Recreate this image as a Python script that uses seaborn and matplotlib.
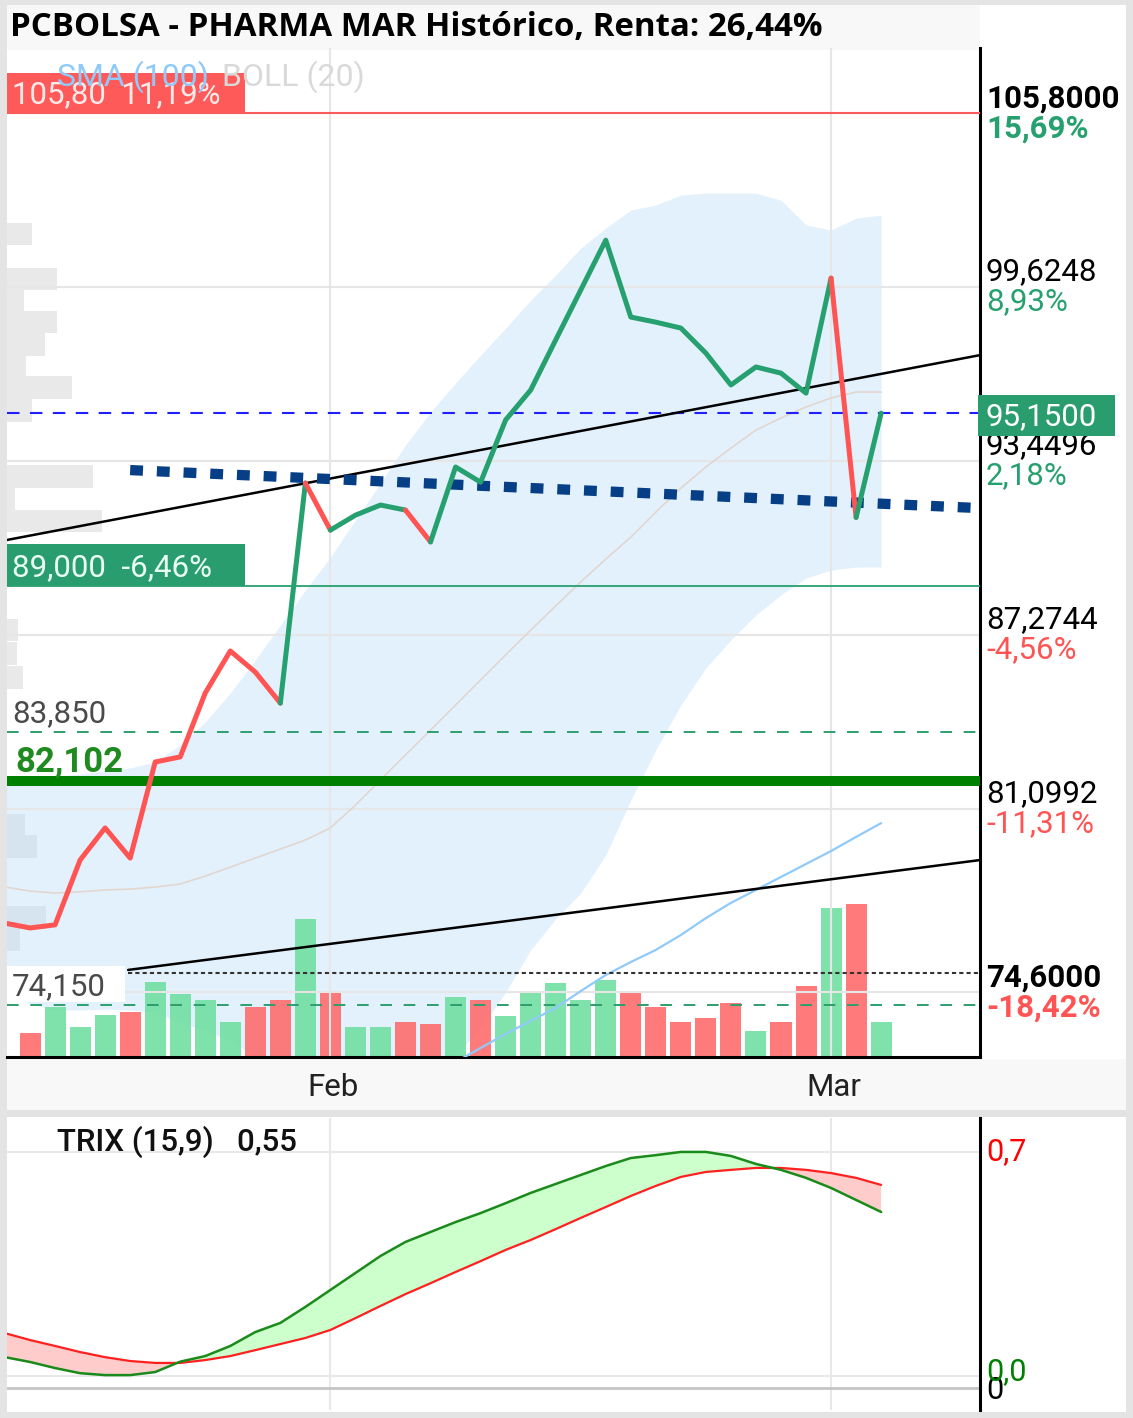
import math
import numpy as np
import pandas as pd
import matplotlib
matplotlib.use("Agg")
import matplotlib.pyplot as plt
import matplotlib.transforms as mtrans
from matplotlib.patches import Rectangle
import seaborn as sns

# ------------------------------------------------------------------ data
day_index = list(range(-1, 35))
close = [77.05, 76.88, 76.99, 79.29, 80.43, 79.36, 82.77, 82.95, 85.22, 86.71,
         85.96, 84.86, 92.67, 91.00, 91.53, 91.89, 91.71, 90.58, 93.24, 92.70,
         94.91, 95.97, 97.75, 99.52, 101.29, 98.56, 98.38, 98.17, 97.28, 96.15,
         96.79, 96.57, 95.86, 99.94, 91.45, 95.15]
# colour of the segment that ends at each point
line_state = ["down"] * 12 + ["up", "down", "up", "up", "up", "down"] + ["up"] * 16 + ["down", "up"]
boll_upper = [82.13, 82.20, 82.27, 82.34, 82.45, 82.56, 82.77, 83.37, 84.19, 85.22,
              86.39, 87.63, 88.87, 90.04, 91.36, 92.67, 94.02, 95.19, 96.22, 97.21,
              98.17, 99.16, 100.05, 101.01, 101.72, 102.36, 102.54, 102.89, 102.96, 102.96,
              102.96, 102.71, 101.83, 101.65, 102.07, 102.18]
boll_mid = [78.33, 78.19, 78.12, 78.16, 78.23, 78.26, 78.33, 78.44, 78.72, 79.04,
            79.36, 79.68, 80.00, 80.43, 81.24, 82.13, 83.02, 83.90, 84.79, 85.68,
            86.57, 87.45, 88.31, 89.16, 89.97, 90.75, 91.64, 92.49, 93.24, 93.91,
            94.55, 94.98, 95.37, 95.69, 95.90, 95.90]
boll_lower = [74.54, 74.18, 73.97, 73.97, 74.00, 73.97, 73.90, 73.51, 73.26, 72.87,
              72.34, 71.73, 71.13, 70.81, 71.13, 71.59, 72.02, 71.66, 72.40, 73.30,
              74.60, 76.10, 77.20, 78.12, 79.47, 81.42, 83.20, 84.79, 86.11, 87.10,
              87.99, 88.70, 89.30, 89.58, 89.69, 89.69]
sma100 = [np.nan] * 18 + [72.12, 72.62, 73.12, 73.58, 74.04, 74.64, 75.21, 75.67, 76.10,
                          76.63, 77.23, 77.77, 78.23, 78.69, 79.15, 79.61, 80.11, 80.60]
volume_days = list(range(0, 35))
volume_k = [72, 150, 90, 126, 135, 225, 189, 171, 105, 150, 171, 414, 198, 90, 90,
            105, 99, 180, 171, 123, 198, 222, 171, 231, 198, 150, 105, 117, 162, 78,
            105, 213, 447, 459, 105]
trix = [0.059, 0.044, 0.025, 0.009, 0.003, 0.003, 0.0125, 0.045, 0.0625, 0.094,
        0.1375, 0.166, 0.216, 0.269, 0.322, 0.375, 0.419, 0.45, 0.481, 0.509,
        0.54, 0.572, 0.60, 0.628, 0.656, 0.681, 0.69, 0.70, 0.70, 0.6875,
        0.6625, 0.644, 0.619, 0.5875, 0.55, 0.5125]
trix_signal = [0.134, 0.1125, 0.094, 0.075, 0.059, 0.047, 0.041, 0.041, 0.05, 0.0625,
               0.081, 0.10, 0.119, 0.144, 0.181, 0.219, 0.256, 0.29, 0.325, 0.359,
               0.394, 0.425, 0.459, 0.494, 0.528, 0.5625, 0.594, 0.622, 0.6375, 0.644,
               0.65, 0.65, 0.644, 0.634, 0.619, 0.597]
trix_label_value = 0.55
trix_levels = [0.7, 0.0]
trix_base = -0.0375
profile_price = [101.51, 99.91, 99.16, 98.38, 97.59, 96.79, 96.06, 95.24, 92.90, 92.10,
                 91.32, 87.45, 86.62, 85.77, 80.52, 79.77, 77.25, 76.45]
profile_vol = [250, 500, 170, 500, 380, 190, 650, 250, 860, 80, 950, 110, 100, 160,
               180, 300, 390, 130]
month_ticks = [12, 32]
month_labels = ["Feb", "Mar"]
price_labels = [105.8, 99.6248, 93.4496, 87.2744, 81.0992, 74.6]
grid_levels = [99.6248, 93.4496, 87.2744, 81.0992, 74.6]
ref_close = 91.45
last_close = 95.15
resistance = 105.80
support = 89.00
dashed_levels = [83.85, 74.15]
thick_level = 82.102
dotted_level = 75.28
trend_upper = ([-0.92, 37.95], [90.65, 97.21])
trend_lower = ([3.92, 37.95], [75.39, 79.29])
trend_blue = ([4.0, 37.95], [93.13, 91.78])
title = "PCBOLSA - PHARMA MAR Histórico, Renta: 26,44%"

df = pd.DataFrame({"idx": day_index, "close": close, "upper": boll_upper,
                   "mid": boll_mid, "lower": boll_lower, "sma100": sma100,
                   "trix": trix, "signal": trix_signal})

# ------------------------------------------------------------------ style
sns.set_theme(style="white")
plt.rcParams["font.family"] = ["Roboto", "DejaVu Sans"]
plt.rcParams["axes.linewidth"] = 2.2

GREEN = "#27a06f"
RED = "#ff5454"
W, H = 1133, 1418
fig = plt.figure(figsize=(W / 100, H / 100), dpi=100)
fig.patch.set_facecolor("#e4e4e4")


def fx(px):
    return px / W


def fy(py):
    return 1 - py / H


def frect(x0, y0, x1, y1, color, z=0):
    fig.patches.append(Rectangle((fx(x0), fy(y1)), fx(x1) - fx(x0), (y1 - y0) / H,
                                 transform=fig.transFigure, color=color, zorder=z, lw=0))


frect(7, 5, 1126, 1412, "white")
frect(7, 5, 980, 50, "#f8f8f8")
frect(7, 1059, 1126, 1110, "#f8f8f8")
frect(7, 1110, 1126, 1117, "#e2e2e2")

XMIN, XMAX = -0.92, 37.95
YMIN, YMAX = 72.30, 108.11
rect_main = [fx(7), fy(1057), fx(980) - fx(7), (1057 - 48) / H]

axp = fig.add_axes(rect_main, zorder=1)   # volume profile
axb = fig.add_axes(rect_main, zorder=2)   # bollinger band fill
axv = fig.add_axes(rect_main, zorder=3)   # volume bars
ax = fig.add_axes(rect_main, zorder=4)    # price lines
for a in (axp, axb, axv, ax):
    a.patch.set_visible(False)
    a.set_xticks([])
    a.set_yticks([])
    for s in a.spines.values():
        s.set_visible(False)

# volume profile
axp.set_ylim(YMIN, YMAX)
axp.set_xlim(0, 9730)
axp.barh(profile_price, profile_vol, height=0.8, color="#e9e9e9", lw=0)

# bollinger band
axb.set_xlim(XMIN, XMAX)
axb.set_ylim(YMIN, YMAX)
axb.fill_between(df["idx"], df["lower"], df["upper"], color="#b9defa", alpha=0.4, lw=0)

# volume
axv.set_xlim(XMIN, XMAX)
axv.set_ylim(0, 3027)
vcol = []
for i, d in enumerate(volume_days):
    up = close[d + 1] >= close[d]
    vcol.append("#6add9d" if up else "#ff6464")
axv.bar(volume_days, volume_k, width=0.84, color=vcol, alpha=0.85, lw=0)

# main price axes
ax.set_xlim(XMIN, XMAX)
ax.set_ylim(YMIN, YMAX)
ppu = (rect_main[3] * H) / (YMAX - YMIN)  # pixels per price unit

for g in grid_levels:
    ax.axhline(g, color="#e6e6e6", lw=1.5, zorder=1)
for t in month_ticks:
    ax.axvline(t, color="#e6e6e6", lw=1.5, zorder=1)

sns.lineplot(data=df, x="idx", y="mid", ax=ax, color="#e2d6ce", lw=1.2, zorder=3)
sns.lineplot(data=df, x="idx", y="sma100", ax=ax, color="#90caf9", lw=1.6, zorder=3)
ax.set_xlabel("")
ax.set_ylabel("")

# horizontal levels
ax.axhline(resistance, color="#ff5a5a", lw=1.5, zorder=4)
ax.axhline(support, color=GREEN, lw=1.3, zorder=4)
ax.axhline(last_close, color="#1f1fff", lw=1.5, ls=(0, (6, 5)), zorder=4)
for lv in dashed_levels:
    ax.axhline(lv, color="#2e9e6e", lw=1.4, ls=(0, (6, 6)), zorder=4)
ax.axhline(thick_level, color="#008000", lw=7.2, zorder=4)
ax.plot([trend_lower[0][0], XMAX], [dotted_level, dotted_level], color="#333333",
        lw=1.5, ls=(0, (2, 1.5)), zorder=4)

# trend lines
ax.plot(*trend_upper, color="black", lw=1.8, zorder=5)
ax.plot(*trend_lower, color="black", lw=1.8, zorder=5)
ax.plot(*trend_blue, color="#073f86", lw=7.4, ls=(0, (1.25, 1.35)),
        solid_capstyle="butt", dash_capstyle="butt", zorder=5)

# price line, coloured by segment state
runs = []
for j in range(1, len(close)):
    st = line_state[j]
    if runs and runs[-1][0] == st:
        runs[-1][1].append(j)
    else:
        runs.append([st, [j - 1, j]])
for st, pts in runs:
    ax.plot([day_index[p] for p in pts], [close[p] for p in pts],
            color=GREEN if st == "up" else RED, lw=3.6, solid_capstyle="round",
            solid_joinstyle="round", zorder=6)

# spines
ax.spines["right"].set_visible(True)
ax.spines["bottom"].set_visible(True)
ax.spines["right"].set_color("black")
ax.spines["bottom"].set_color("black")

blend = mtrans.blended_transform_factory(ax.transAxes, ax.transData)


def fmt(v, nd):
    return f"{v:.{nd}f}".replace(".", ",")


def pct(p, base):
    v = (p / base - 1) * 100
    v = math.trunc(v * 100) / 100
    return fmt(v, 2) + "%"


# left boxed labels
ax.add_patch(Rectangle((0, resistance), 238 / 973, 40 / ppu, transform=blend,
                       color="#ff5a5a", lw=0, zorder=7, clip_on=False))
ax.text(5 / 973, resistance + 18 / ppu, f"{fmt(resistance, 2)}  {pct(resistance, last_close)}",
        transform=blend, color="#ffeaea", fontsize=22.5, va="center", ha="left", zorder=8)
ax.add_patch(Rectangle((0, support), 238 / 973, 42 / ppu, transform=blend,
                       color="#2a9d6f", lw=0, zorder=7, clip_on=False))
ax.text(5 / 973, support + 19 / ppu, f"{fmt(support, 3)}  {pct(support, last_close)}",
        transform=blend, color="#eafff4", fontsize=22.5, va="center", ha="left", zorder=8)

ax.text(50 / 973, 1 - 29 / 1009, "SMA (100)", transform=ax.transAxes, color="#90caf9",
        fontsize=23, va="center", ha="left", zorder=9)
ax.text(215 / 973, 1 - 29 / 1009, "BOLL (20)", transform=ax.transAxes, color="#d9d9d9",
        fontsize=23, va="center", ha="left", zorder=9)

ax.text(5 / 973, dashed_levels[0] + 18 / ppu, fmt(dashed_levels[0], 3), transform=blend,
        color="#4a4a4a", fontsize=22.5, va="center", ha="left", zorder=8)
ax.text(8 / 973, thick_level + 19 / ppu, fmt(thick_level, 3), transform=blend,
        color="#1f8a1f", fontsize=25, fontweight="bold", va="center", ha="left", zorder=8)
ax.add_patch(Rectangle((0, dashed_levels[1] + 3 / ppu), 118 / 973, 36 / ppu, transform=blend,
                       color="white", lw=0, zorder=7))
ax.text(5 / 973, dashed_levels[1] + 18 / ppu, fmt(dashed_levels[1], 3), transform=blend,
        color="#4a4a4a", fontsize=22.5, va="center", ha="left", zorder=8)

# right axis labels
for p in price_labels:
    bold = p in (max(price_labels), min(price_labels))
    wt = "bold" if bold else "normal"
    pc = pct(p, ref_close)
    pcol = GREEN if p >= ref_close else RED
    ax.text(1 + 6 / 973, p + 15 / ppu, fmt(p, 4), transform=blend, color="black",
            fontsize=22.5, fontweight=wt, va="center", ha="left", clip_on=False)
    ax.text(1 + 6 / 973, p - 15 / ppu, pc, transform=blend, color=pcol,
            fontsize=22.5, fontweight=wt, va="center", ha="left", clip_on=False)
ax.add_patch(Rectangle((1 - 2 / 973, last_close - 23 / ppu), 137 / 973, 41 / ppu,
                       transform=blend, color="#2a9d6f", lw=0, zorder=10, clip_on=False))
ax.text(1 + 6 / 973, last_close - 3 / ppu, fmt(last_close, 4), transform=blend, color="white",
        fontsize=22.5, va="center", ha="left", zorder=11, clip_on=False)

# month labels
xblend = mtrans.blended_transform_factory(ax.transData, ax.transAxes)
for t, lab in zip(month_ticks, month_labels):
    ax.text(t + 0.1, -31 / 1009, lab, transform=xblend, fontsize=22.5, color="#222222",
            ha="center", va="center", clip_on=False)

# title
fig.text(fx(10), fy(28), title, fontsize=23.8, fontweight="bold", color="black",
         family=["Open Sans", "DejaVu Sans"], va="center", ha="left")

# ------------------------------------------------------------------ TRIX panel
ax2 = fig.add_axes([fx(7), fy(1410), fx(980) - fx(7), (1410 - 1118) / H], zorder=3)
ax2.patch.set_visible(False)
ax2.set_xlim(XMIN, XMAX)
ax2.set_ylim(-0.106, 0.806)
ax2.set_xticks([])
ax2.set_yticks([])
for s in ax2.spines.values():
    s.set_visible(False)
ax2.spines["right"].set_visible(True)
ax2.spines["right"].set_color("black")
for lv in trix_levels:
    ax2.axhline(lv, color="#e8e8e8", lw=1.5, zorder=1)
for t in month_ticks:
    ax2.axvline(t, color="#e8e8e8", lw=1.5, zorder=1)
ax2.axhline(trix_base, color="#c4c4c4", lw=2, zorder=1)

tx = np.array(trix)
sg = np.array(trix_signal)
ax2.fill_between(df["idx"], tx, sg, where=tx >= sg, interpolate=True, color="#ccffcc", lw=0, zorder=2)
ax2.fill_between(df["idx"], tx, sg, where=tx < sg, interpolate=True, color="#ffcccc", lw=0, zorder=2)
sns.lineplot(data=df, x="idx", y="signal", ax=ax2, color="#ff2020", lw=1.6, zorder=3)
sns.lineplot(data=df, x="idx", y="trix", ax=ax2, color="#1a8a1a", lw=1.8, zorder=4)
ax2.set_xlabel("")
ax2.set_ylabel("")

blend2 = mtrans.blended_transform_factory(ax2.transAxes, ax2.transData)
ax2.text(1 + 6 / 973, trix_levels[0], fmt(trix_levels[0], 1), transform=blend2, color="#ff0000",
         fontsize=22, va="center", ha="left", clip_on=False)
ax2.text(1 + 6 / 973, trix_base - 2 / 320, "0", transform=blend2, color="black",
         fontsize=22, va="center", ha="left", clip_on=False)
ax2.text(1 + 6 / 973, trix_levels[1] + 4 / 320, fmt(trix_levels[1], 1), transform=blend2,
         color="#008000", fontsize=22, va="center", ha="left", clip_on=False)
ax2.text(50 / 973, 1 - 24 / 292, f"TRIX (15,9)   {fmt(trix_label_value, 2)}",
         transform=ax2.transAxes, color="#111111", fontsize=22.5, fontweight="medium",
         va="center", ha="left")

fig.savefig("out.png", dpi=100, facecolor=fig.get_facecolor())
